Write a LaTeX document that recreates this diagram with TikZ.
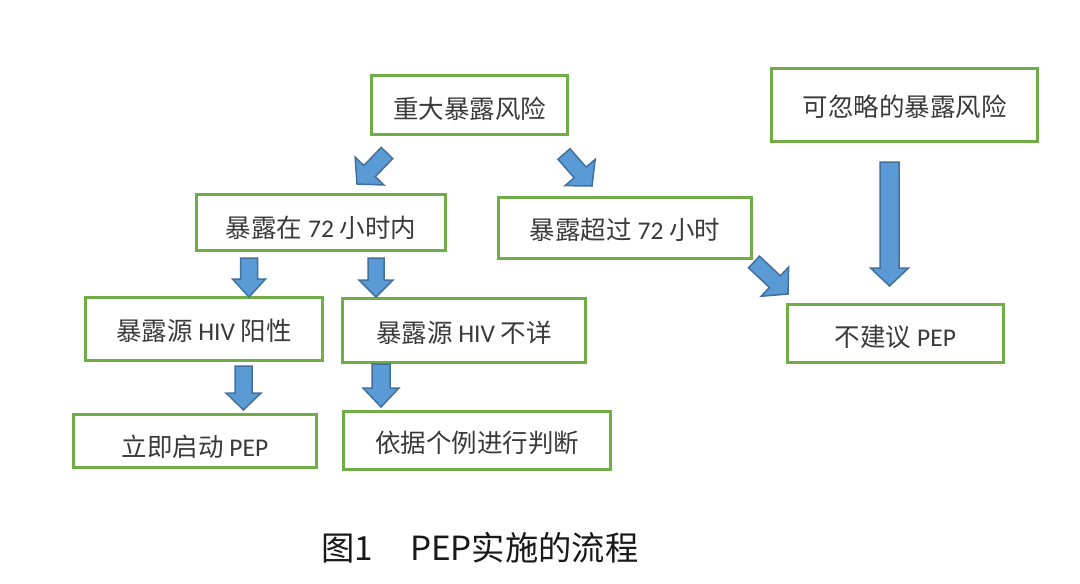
\documentclass[tikz,border=0pt]{standalone}
\usepackage{fontspec}
\setmainfont{Carlito}
\newfontfamily\cjk{Noto Sans CJK SC}
\usetikzlibrary{calc}
\definecolor{boxgreen}{HTML}{70AD47}
\definecolor{arrowfill}{HTML}{5B9BD5}
\definecolor{arrowline}{HTML}{41719C}
\definecolor{txt}{HTML}{3A3A3A}
% lower text inside a box without changing the box size
\newcommand\dn[2]{\raisebox{-#1}[\height][\depth]{#2}}
% block arrow: #1 tail coordinate, #2 tip coordinate, #3 half shaft width, #4 half head width, #5 head length
\newcommand\barrow[5]{%
  \coordinate (#1#2base) at ($(#2)!#5!(#1)$);
  \draw[blockarrow] ($(#1)!#3!90:(#2)$) -- ($(#1#2base)!#3!90:(#2)$) -- ($(#1#2base)!#4!90:(#2)$) -- (#2)
    -- ($(#1#2base)!#4!-90:(#2)$) -- ($(#1#2base)!#3!-90:(#2)$) -- ($(#1)!#3!-90:(#2)$) -- cycle;
}
\begin{document}
\begin{tikzpicture}[x=1pt,y=-1pt,
  box/.style={draw=boxgreen, line width=2.8pt, fill=white, inner sep=0pt, text=txt,
    font=\fontsize{25.5}{28}\selectfont},
  blockarrow/.style={fill=arrowfill, draw=arrowline, line width=1.5pt, line join=miter},
  caption/.style={inner sep=0pt, text=black!90, font=\cjk\fontsize{33.3}{36}\selectfont}]
\useasboundingbox (0,0) rectangle (1080,584);
\fill[white] (0,0) rectangle (1080,584);
% boxes
\node[box, minimum width=196pt, minimum height=59pt] (A) at (469.5,105) {\dn{4pt}{\cjk 重大暴露风险}};
\node[box, minimum width=266pt, minimum height=73pt] (B) at (904.5,105) {\dn{2pt}{\cjk 可忽略的暴露风险}};
\node[box, minimum width=249pt, minimum height=56pt] (C) at (321,222.5) {\dn{5pt}{{\cjk 暴露在} 72 {\cjk 小时内}}};
\node[box, minimum width=253pt, minimum height=61pt] (D) at (625,228) {\dn{2pt}{{\cjk 暴露超过} 72 {\cjk 小时}}};
\node[box, minimum width=237pt, minimum height=63pt] (E) at (204,329) {\dn{2pt}{{\cjk 暴露源} HIV {\cjk 阳性}}};
\node[box, minimum width=243pt, minimum height=64pt] (F) at (464,330.5) {\dn{2pt}{{\cjk 暴露源} HIV {\cjk 不详}}};
\node[box, minimum width=243pt, minimum height=53pt] (G) at (195,441) {\dn{6pt}{{\cjk 立即启动} PEP}};
\node[box, minimum width=267pt, minimum height=58pt] (H) at (477,440.5) {\dn{2.5pt}{\cjk 依据个例进行判断}};
\node[box, minimum width=216pt, minimum height=58pt] (I) at (895.5,333.5) {\dn{3.5pt}{{\cjk 不建议} PEP}};
% arrow end points
\coordinate (t1) at (387,153);   \coordinate (p1) at (357,184);
\coordinate (t2) at (564,154);   \coordinate (p2) at (592,186);
\coordinate (t3) at (754,262);   \coordinate (p3) at (788,294);
\coordinate (t4) at (249,258);   \coordinate (p4) at (249,297);
\coordinate (t5) at (376,258);   \coordinate (p5) at (376,297);
\coordinate (t6) at (243.5,366); \coordinate (p6) at (243.5,410);
\coordinate (t7) at (381,364);   \coordinate (p7) at (381,407);
\coordinate (t8) at (889.5,162); \coordinate (p8) at (889.5,286);
\barrow{t1}{p1}{8pt}{20pt}{18pt}
\barrow{t2}{p2}{8pt}{20pt}{18pt}
\barrow{t3}{p3}{8pt}{20pt}{18pt}
\barrow{t4}{p4}{8.5pt}{16.5pt}{18pt}
\barrow{t5}{p5}{8pt}{17pt}{17pt}
\barrow{t6}{p6}{8.5pt}{17.5pt}{17pt}
\barrow{t7}{p7}{9pt}{18pt}{19pt}
\barrow{t8}{p8}{9.5pt}{19pt}{18pt}
% caption
\node[caption] (cap) at (480,548) {图1\hspace{1.1em}PEP实施的流程};
\end{tikzpicture}
\end{document}
